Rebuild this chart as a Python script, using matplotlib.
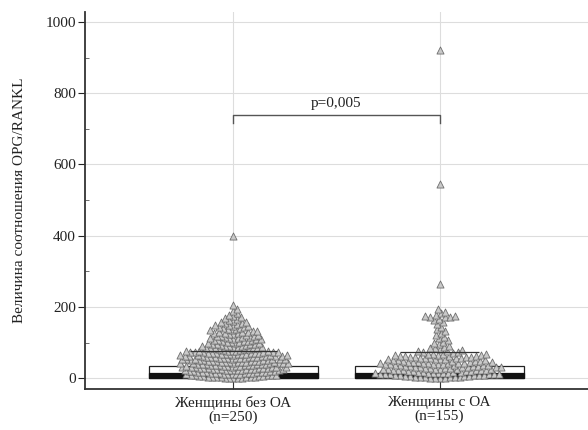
import numpy as np
import matplotlib.pyplot as plt
from matplotlib.ticker import MultipleLocator

plt.rcParams['font.family'] = ['Liberation Serif', 'DejaVu Serif']

groups = ['Женщины без ОА\n(n=250)', 'Женщины с ОА\n(n=155)']

# OPG/RANKL ratio, women without OA
no_oa = [
    0, 1, 1, 2, 2, 3, 3, 3, 4, 4, 5, 5, 6, 6, 7, 7, 8, 8, 9,
    10, 10, 11, 11, 12, 12, 13, 13, 14, 14, 15, 15, 16, 16, 17, 17, 18, 18, 19, 19,
    20, 20, 21, 21, 22, 22, 22, 23, 23, 24, 24, 25, 25, 25, 26, 26, 27, 27, 28, 28,
    29, 29,
    30, 30, 31, 31, 32, 32, 32, 33, 33, 34, 34, 35, 35, 35, 36, 36, 37, 37, 38, 38,
    39, 39,
    40, 40, 41, 41, 42, 42, 42, 43, 43, 44, 44, 45, 45, 45, 46, 46, 47, 47, 48, 48,
    49, 49,
    50, 50, 51, 51, 52, 52, 52, 53, 53, 54, 54, 55, 55, 55, 56, 56, 57, 57, 58, 58,
    59, 59,
    60, 60, 61, 61, 62, 62, 62, 63, 63, 64, 64, 65, 65, 65, 66, 66, 67, 67, 68, 68,
    69, 69,
    70, 70, 71, 71, 72, 72, 73, 73, 74, 74, 75, 75, 76, 76, 77, 77, 78, 78, 79,
    80, 81, 82, 83, 84, 84, 85, 86, 86, 87, 88, 89,
    90, 91, 92, 92, 93, 94, 95, 96, 97, 97, 98, 99,
    100, 101, 102, 103, 104, 105, 106, 107, 108, 108, 109,
    110, 111, 112, 113, 114, 115, 116, 117, 118, 119,
    120, 121, 122, 124, 125, 126, 127, 128, 129,
    130, 131, 133, 134, 135, 136, 138, 139,
    140, 142, 143, 145, 146, 148, 149,
    151, 153, 154, 156, 157, 159,
    161, 164, 166, 169,
    172, 175, 178,
    183, 188,
    195,
    205, 400,
]

# OPG/RANKL ratio, women with OA
with_oa = [
    1, 1, 2, 2, 3, 3, 4, 4, 5, 5, 6, 6, 7, 7, 8, 8, 9,
    10, 10, 11, 11, 12, 12, 13, 13, 14, 14, 15, 15, 16, 16, 17, 17, 18, 19,
    20, 20, 21, 21, 22, 22, 23, 23, 24, 24, 25, 25, 26, 26, 27, 27, 28, 29,
    30, 30, 31, 31, 32, 32, 33, 33, 34, 34, 35, 35, 36, 36, 37, 37, 38, 39,
    40, 40, 41, 41, 42, 42, 43, 43, 44, 44, 45, 45, 46, 46, 47, 48, 49,
    50, 50, 51, 52, 52, 53, 54, 54, 55, 56, 56, 57, 58, 58, 59, 59,
    60, 61, 62, 62, 63, 64, 65, 65, 66, 67, 68, 68, 69,
    71, 73, 74, 76, 78, 79,
    81, 84, 86, 89,
    92, 95, 98,
    103, 108,
    112, 117,
    122, 127,
    132, 137,
    145,
    153, 158,
    163, 166,
    171, 172, 173, 174, 175, 177,
    182, 186,
    194,
    265, 545, 920,
]

# box summary per group
q1 = [0, 0]
med = [16, 16]
q3 = [35, 35]
whisker_hi = [76, 73]

p_label = 'p=0,005'
p_level = 740


def beeswarm(values, radius, px_per_unit):
    # spread points sideways so markers keep at least `radius` pixels apart
    y = np.asarray(values, float) * px_per_unit
    xs = np.zeros(len(y))
    placed = []
    for i in np.argsort(y, kind='stable'):
        yi = y[i]
        near = [(px, py) for px, py in placed if abs(py - yi) < radius]
        cands = [0.0]
        for px, py in near:
            w = np.sqrt(radius ** 2 - (py - yi) ** 2)
            cands += [px - w, px + w]
        cands.sort(key=abs)
        for c in cands:
            ok = True
            for px, py in near:
                w = np.sqrt(radius ** 2 - (py - yi) ** 2)
                if abs(c - px) < w - 1e-6:
                    ok = False
                    break
            if ok:
                xs[i] = c
                break
        placed.append((xs[i], yi))
    return xs


fig = plt.figure(figsize=(5.88, 4.30), dpi=100)
ax = fig.add_axes([0.1446, 0.0953, 0.8554, 0.877])

ax.set_xlim(-0.72, 1.72)
ax.set_ylim(-30, 1028)

# pixel scales of the axes, used by the swarm layout
x_px = 0.8554 * 588 / 2.44
y_px = 0.877 * 430 / 1058

positions = [0, 1]
box_w = 0.82
cap_w = [0.21, 0.19]
for pos, lo, m, hi, wh, cw in zip(positions, q1, med, q3, whisker_hi, cap_w):
    ax.bar(pos, hi - lo, bottom=lo, width=box_w, facecolor='white',
           edgecolor='#222222', linewidth=0.9, zorder=2)
    ax.bar(pos, m - lo, bottom=lo, width=box_w, facecolor='#111111',
           edgecolor='#111111', linewidth=0.9, zorder=2)
    ax.hlines(wh, pos - cw, pos + cw, color='#333333', linewidth=0.9, zorder=4)

for pos, vals, r in zip(positions, [no_oa, with_oa], [4.3, 5.0]):
    off = beeswarm(vals, r, y_px) / x_px
    ax.scatter(pos + off, vals, marker='^', s=26, facecolor='#c9c9c9',
               edgecolor='#6e6e6e', linewidths=0.6, zorder=3)

# significance bracket
ax.plot([0, 0, 1, 1], [p_level - 25, p_level, p_level, p_level - 25],
        color='#555555', linewidth=1.0, zorder=4)
ax.text(0.5, p_level + 12, p_label, ha='center', va='bottom', fontsize=11,
        color='#222222')

ax.set_xticks(positions)
ax.set_xticklabels(groups, fontsize=11, color='#222222', linespacing=1.1)
ax.yaxis.set_major_locator(MultipleLocator(200))
ax.yaxis.set_minor_locator(MultipleLocator(100))
ax.tick_params(axis='y', which='major', direction='out', length=5, pad=1.5,
               labelsize=11, colors='#222222')
ax.tick_params(axis='y', which='minor', direction='in', length=3, color='#555555')
ax.tick_params(axis='x', which='major', direction='in', length=9, pad=5,
               color='#333333')

ax.grid(True, which='major', color='#dddddd', linewidth=0.8)
ax.set_axisbelow(True)

for side in ['top', 'right']:
    ax.spines[side].set_visible(False)
for side in ['left', 'bottom']:
    ax.spines[side].set_linewidth(1.3)
    ax.spines[side].set_color('#333333')

ax.set_ylabel('Величина соотношения OPG/RANKL', fontsize=11, color='#222222',
              labelpad=14)

fig.savefig('out.png', dpi=100)
